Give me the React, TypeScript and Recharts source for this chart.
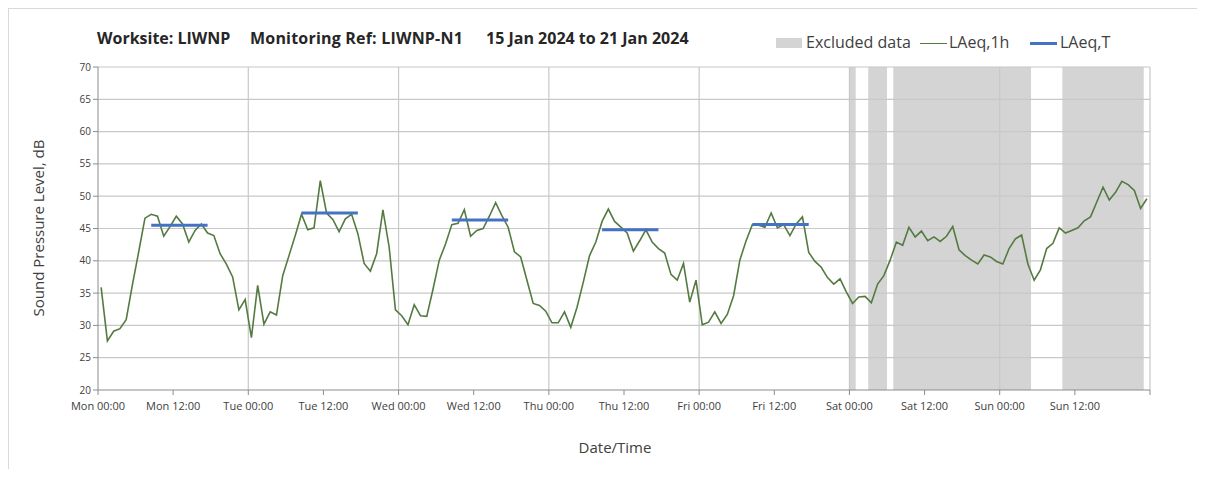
import {
  LineChart,
  Line,
  XAxis,
  YAxis,
  ReferenceArea,
  ReferenceLine,
} from "recharts";

// hourly LAeq,1h readings, one array per day (00:00 .. 23:00)
const mon = [35.9, 27.6, 29.1, 29.5, 30.9, 36.3, 41.4, 46.6, 47.2, 46.9, 43.8, 45.3, 46.9, 45.7, 42.9, 44.7, 45.7, 44.3, 43.9, 41.1, 39.5, 37.5, 32.4, 34.0];
const tue = [28.1, 36.2, 30.2, 32.1, 31.6, 37.7, 40.8, 43.9, 47.2, 44.8, 45.1, 52.4, 47.4, 46.4, 44.5, 46.5, 47.2, 44.2, 39.6, 38.4, 41.1, 47.9, 42.1, 32.4];
const wed = [31.5, 30.1, 33.2, 31.5, 31.4, 35.6, 40.1, 42.6, 45.6, 45.8, 47.9, 43.8, 44.7, 45.0, 46.9, 49.0, 47.0, 45.2, 41.4, 40.6, 37.0, 33.4, 33.1, 32.2];
const thu = [30.4, 30.4, 32.1, 29.7, 32.8, 36.7, 40.8, 42.9, 46.1, 48.0, 46.1, 45.2, 44.3, 41.5, 43.1, 44.8, 42.9, 41.9, 41.2, 37.9, 37.0, 39.6, 33.6, 37.0];
const fri = [30.1, 30.5, 32.1, 30.3, 31.7, 34.6, 40.1, 43.1, 45.6, 45.5, 45.2, 47.4, 45.1, 45.6, 43.9, 45.7, 46.8, 41.3, 39.9, 39.0, 37.4, 36.4, 37.2, 35.2];
const sat = [33.4, 34.4, 34.5, 33.5, 36.4, 37.7, 40.1, 42.9, 42.4, 45.2, 43.7, 44.6, 43.1, 43.7, 43.0, 43.8, 45.3, 41.7, 40.8, 40.1, 39.5, 40.9, 40.6, 39.9];
const sun = [39.5, 41.9, 43.4, 44.0, 39.5, 37.0, 38.6, 41.9, 42.7, 45.1, 44.3, 44.7, 45.1, 46.2, 46.8, 49.1, 51.4, 49.4, 50.6, 52.3, 51.8, 50.9, 48.1, 49.6];

// LAeq,T per weekday, over the assessment period hours
const laeqT = [45.5, 47.4, 46.3, 44.8, 45.6];
const periodStart = 8;
const periodEnd = 17;

// excluded periods, hours from Mon 00:00
const excluded = [
  [120, 121],
  [123, 126],
  [127, 149],
  [154, 167],
];

const xTickLabels = [
  "Mon 00:00", "Mon 12:00", "Tue 00:00", "Tue 12:00", "Wed 00:00", "Wed 12:00",
  "Thu 00:00", "Thu 12:00", "Fri 00:00", "Fri 12:00", "Sat 00:00", "Sat 12:00",
  "Sun 00:00", "Sun 12:00", "",
];
const yTicks = [20, 25, 30, 35, 40, 45, 50, 55, 60, 65, 70];

const days = [mon, tue, wed, thu, fri, sat, sun];
const data = days.flatMap((vals, d) =>
  vals.map((v, h) => ({
    t: d * 24 + h + 0.5,
    l1h: v,
    lt: d < laeqT.length && h >= periodStart && h <= periodEnd ? laeqT[d] : null,
  }))
);
const xTicks = xTickLabels.map((_, i) => i * 12);
const dayLines = [24, 48, 72, 96, 120, 144, 168];

const FONT = "'Open Sans', sans-serif";
const GREEN = "#557a41";
const BLUE = "#4472c4";
const GREY = "#d4d4d4";
const GRID = "#c8c8c8";

const abs = (left: number, top: number, extra: any = {}) => ({
  position: "absolute" as const,
  left,
  top,
  whiteSpace: "nowrap" as const,
  ...extra,
});

export default function App() {
  return (
    <div
      style={{
        position: "relative",
        width: 1189,
        height: 461,
        fontFamily: FONT,
        color: "#262626",
      }}
    >
      <div style={abs(0, 0, { width: 1197, height: 461, boxSizing: "border-box", borderTop: "1px solid #d9d9d9", borderLeft: "1px solid #d9d9d9" })} />

      <div style={abs(89, 19, { fontSize: 16, fontWeight: 700 })}>Worksite: LIWNP</div>
      <div style={abs(242, 19, { fontSize: 16, fontWeight: 700, letterSpacing: 0.2 })}>Monitoring Ref: LIWNP-N1</div>
      <div style={abs(478, 19, { fontSize: 16, fontWeight: 700 })}>15 Jan 2024 to 21 Jan 2024</div>

      <span style={abs(768, 30, { width: 26, height: 10, background: GREY })} />
      <div style={abs(798, 23, { fontSize: 16, color: "#404040" })}>Excluded data</div>
      <span style={abs(912, 35, { width: 27, height: 0, borderTop: `1.5px solid ${GREEN}` })} />
      <div style={abs(941, 23, { fontSize: 16, color: "#404040" })}>LAeq,1h</div>
      <span style={abs(1022, 34, { width: 27, height: 0, borderTop: `3px solid ${BLUE}` })} />
      <div style={abs(1052, 23, { fontSize: 16, color: "#404040" })}>LAeq,T</div>

      <div
        style={abs(30, 220, {
          transform: "translate(-50%, -50%) rotate(-90deg)",
          fontSize: 15,
          color: "#404040",
        })}
      >
        Sound Pressure Level, dB
      </div>
      <div style={abs(607, 439, { transform: "translate(-50%, -50%)", fontSize: 15, color: "#404040" })}>
        Date/Time
      </div>

      <div style={abs(0, 0)}>
        <LineChart width={1189} height={461} data={data} margin={{ top: 59, right: 47, bottom: 49, left: 0 }}>
          {excluded.map(([a, b], i) => (
            <ReferenceArea key={i} x1={a} x2={b} y1={20} y2={70} fill={GREY} fillOpacity={1} stroke="none" />
          ))}
          {yTicks.slice(1).map((y) => (
            <ReferenceLine key={"y" + y} y={y} stroke={GRID} strokeWidth={1.2} />
          ))}
          {dayLines.map((x) => (
            <ReferenceLine key={"x" + x} x={x} stroke={GRID} strokeWidth={1.2} />
          ))}
          <XAxis
            dataKey="t"
            type="number"
            domain={[0, 168]}
            ticks={xTicks}
            tickFormatter={(v: number) => xTickLabels[v / 12]}
            interval={0}
            height={30}
            stroke="#8c8c8c"
            tickSize={5}
            tickMargin={7}
            tick={{ fontSize: 11, fill: "#404040", fontFamily: FONT }}
          />
          <YAxis
            type="number"
            domain={[20, 70]}
            ticks={yTicks}
            interval={0}
            width={90}
            stroke="#8c8c8c"
            tickSize={5}
            tick={{ fontSize: 10, fill: "#404040", fontFamily: FONT }}
          />
          <Line
            dataKey="l1h"
            stroke={GREEN}
            strokeWidth={1.6}
            dot={false}
            isAnimationActive={false}
          />
          <Line
            dataKey="lt"
            stroke={BLUE}
            strokeWidth={3}
            dot={false}
            connectNulls={false}
            isAnimationActive={false}
          />
        </LineChart>
      </div>
    </div>
  );
}
